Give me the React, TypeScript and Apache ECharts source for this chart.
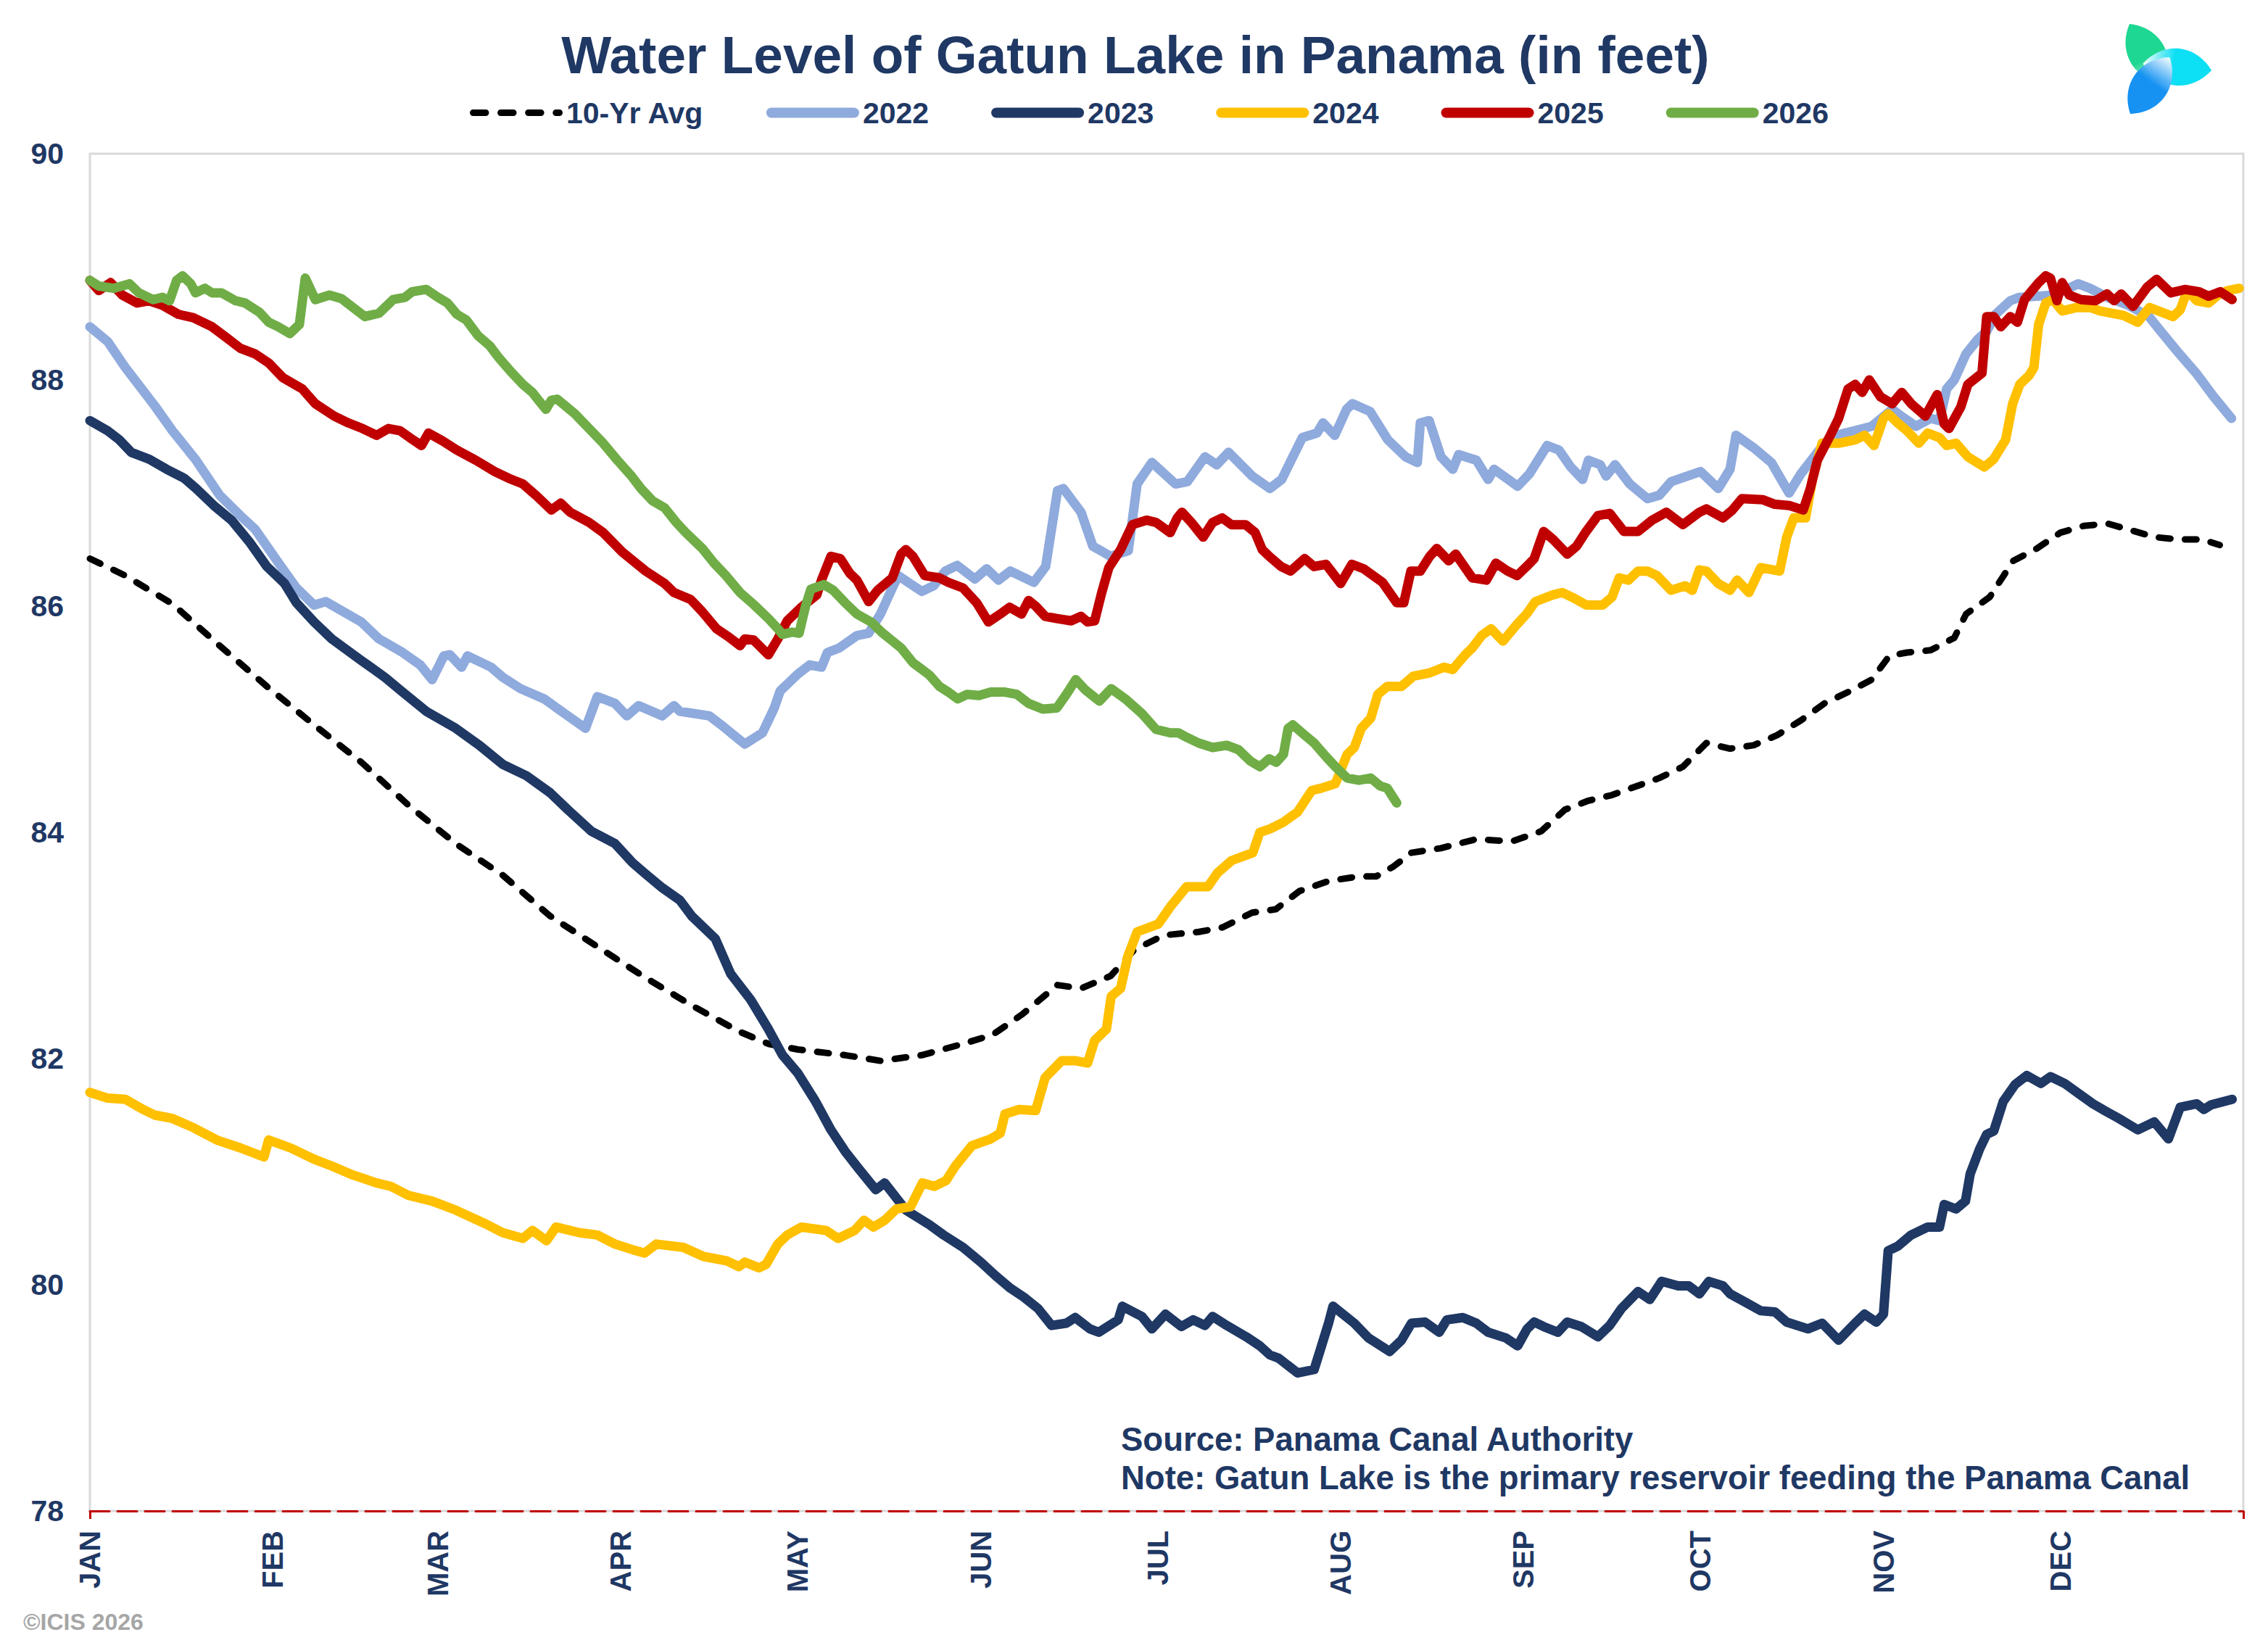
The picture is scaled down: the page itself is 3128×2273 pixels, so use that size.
import React, { useEffect, useRef } from "react";
import * as echarts from "echarts";

const FONT = "'Liberation Sans', Arial, sans-serif";
const NAVY = "#1F3864";

const MONTH_LABELS = ["JAN", "FEB", "MAR", "APR", "MAY", "JUN", "JUL", "AUG", "SEP", "OCT", "NOV", "DEC"];
const MONTH_START = [0, 31, 59, 90, 120, 151, 181, 212, 243, 273, 304, 334];
const Y_TICKS = [78, 80, 82, 84, 86, 88, 90];

const SERIES_NAMES = ["10-Yr Avg", "2022", "2023", "2024", "2025", "2026"];
const SERIES_COLORS = ["#000000", "#8FAADC", "#1F3864", "#FFC000", "#C00000", "#70AD47"];

const AVG = [
  [0, 86.42], [6, 86.27], [14, 86.02], [22, 85.65], [30, 85.29], [38, 84.95], [46, 84.62], [54, 84.24], [62, 83.9], [70, 83.62],
  [78, 83.26], [86, 82.99], [94, 82.72], [102, 82.47], [110, 82.24], [115, 82.13], [120, 82.08], [128, 82.03], [134, 81.98],
  [141, 82.03], [148, 82.13], [153, 82.21], [158, 82.39], [164, 82.65], [168, 82.62], [173, 82.73], [177, 82.96], [182, 83.09],
  [188, 83.12], [192, 83.16], [197, 83.29], [201, 83.32], [205, 83.48], [210, 83.57], [215, 83.61], [218, 83.61], [221, 83.7],
  [224, 83.82], [229, 83.86], [235, 83.94], [241, 83.92], [246, 84.01], [250, 84.2], [254, 84.28], [258, 84.33], [266, 84.48],
  [270, 84.58], [274, 84.79], [278, 84.74], [282, 84.77], [286, 84.86], [290, 84.99], [294, 85.14], [298, 85.24], [302, 85.35],
  [305, 85.56], [308, 85.59], [312, 85.61], [316, 85.72], [318, 85.93], [322, 86.08], [326, 86.4], [330, 86.51], [334, 86.65],
  [338, 86.71], [342, 86.73], [346, 86.67], [350, 86.61], [354, 86.59], [358, 86.59], [361, 86.54],
];

const Y2022 = [
  [0, 88.47], [3, 88.34], [6, 88.11], [11, 87.77], [14, 87.55], [18, 87.29], [22, 86.98], [25.5, 86.8], [28, 86.68], [32, 86.38],
  [35, 86.16], [38, 86.01], [40, 86.04], [43, 85.95], [46, 85.86], [49, 85.71], [53, 85.59], [56, 85.48], [58, 85.35], [60, 85.56],
  [61, 85.57], [63, 85.46], [64, 85.56], [68, 85.46], [70, 85.37], [73, 85.27], [77, 85.18], [81, 85.03], [84, 84.92], [86, 85.2],
  [89, 85.14], [91, 85.03], [93, 85.12], [97, 85.03], [99, 85.12], [100, 85.07], [105, 85.03], [107, 84.95], [111, 84.78],
  [114, 84.88], [116, 85.1], [117, 85.25], [120, 85.4], [122, 85.48], [124, 85.46], [125, 85.59], [127, 85.63], [130, 85.74],
  [132, 85.76], [134, 85.93], [136, 86.16], [137, 86.27], [139, 86.2], [141, 86.13], [143, 86.18], [145, 86.31], [147, 86.36],
  [150, 86.24], [152, 86.33], [154, 86.23], [156, 86.31], [160, 86.21], [162, 86.35], [164, 87.02], [165, 87.04], [168, 86.83],
  [170, 86.53], [173, 86.44], [176, 86.49], [177.5, 87.08], [180, 87.27], [184, 87.08], [186, 87.1], [189, 87.32], [191, 87.25],
  [193, 87.36], [197, 87.15], [200, 87.04], [202, 87.12], [205.5, 87.49], [208, 87.53], [209, 87.62], [211, 87.51], [213, 87.74],
  [214, 87.79], [217, 87.72], [220, 87.47], [223, 87.32], [225, 87.27], [225.5, 87.62], [227, 87.64], [229, 87.32], [231, 87.21],
  [232, 87.34], [235, 87.29], [237, 87.12], [238, 87.21], [242, 87.06], [244, 87.17], [247, 87.42], [249, 87.38], [251, 87.23],
  [253, 87.12], [254, 87.29], [256, 87.25], [257, 87.15], [258.5, 87.25], [261, 87.08], [264, 86.95], [266, 86.98], [268, 87.1],
  [273, 87.19], [276, 87.04], [278, 87.21], [279, 87.51], [282, 87.4], [285, 87.27], [288, 87.0], [290, 87.17], [294, 87.44],
  [296, 87.51], [299, 87.55], [302, 87.59], [305.5, 87.74], [307, 87.68], [309.5, 87.59], [312, 87.66], [313.5, 87.64],
  [314.7, 87.92], [316, 88.0], [318, 88.23], [320, 88.36], [321.5, 88.43], [323, 88.58], [325.5, 88.7], [327, 88.73], [333, 88.75],
  [337, 88.85], [339, 88.81], [342, 88.73], [345.5, 88.66], [349, 88.56], [351, 88.43], [354, 88.24], [357, 88.06], [360, 87.85],
  [363, 87.66],
];

const Y2023 = [
  [0, 87.64], [3, 87.55], [5, 87.47], [7, 87.36], [10, 87.3], [13, 87.21], [16, 87.13], [18, 87.04], [21, 86.89], [24, 86.76],
  [27, 86.57], [30, 86.35], [33, 86.2], [35, 86.03], [38, 85.86], [41, 85.71], [46, 85.52], [50, 85.37], [53, 85.24], [57, 85.07],
  [62, 84.92], [66, 84.77], [70, 84.6], [74, 84.5], [78, 84.35], [81, 84.2], [85, 84.01], [89, 83.9], [92, 83.73], [94, 83.64],
  [97, 83.51], [100, 83.4], [102, 83.26], [106, 83.06], [108.6, 82.75], [112, 82.52], [115, 82.26], [117.4, 82.03], [120, 81.87],
  [123, 81.62], [125.6, 81.37], [128, 81.18], [130.4, 81.02], [133.2, 80.84], [134.7, 80.9], [138.3, 80.66], [142.3, 80.53],
  [144.7, 80.44], [148, 80.33], [151, 80.2], [153.5, 80.08], [156, 79.97], [158.3, 79.89], [160.7, 79.79], [163, 79.64],
  [165.5, 79.66], [167, 79.71], [169.5, 79.61], [171, 79.58], [174.3, 79.69], [175, 79.81], [178.3, 79.72], [180, 79.61],
  [182.3, 79.74], [185, 79.63], [187, 79.69], [189, 79.64], [190.3, 79.72], [192.7, 79.64], [196, 79.54], [198.3, 79.46],
  [200, 79.38], [201.5, 79.35], [204.7, 79.22], [207.5, 79.25], [208.7, 79.45], [210, 79.67], [210.7, 79.81], [214.3, 79.66],
  [216.7, 79.53], [220.3, 79.41], [222.3, 79.51], [224, 79.66], [226.3, 79.67], [228.7, 79.58], [230, 79.69], [232.7, 79.71],
  [235, 79.66], [237, 79.58], [240, 79.53], [242, 79.46], [243.6, 79.61], [244.8, 79.67], [246.4, 79.63], [248.8, 79.58],
  [250.4, 79.67], [252.8, 79.63], [255.6, 79.54], [257.6, 79.64], [259.6, 79.79], [262.4, 79.94], [264.4, 79.87], [266.4, 80.03],
  [269.2, 79.99], [271, 79.99], [272.8, 79.92], [274.4, 80.03], [276.8, 79.99], [278, 79.92], [280.8, 79.84], [283.2, 79.77],
  [285.6, 79.76], [287.6, 79.67], [291.2, 79.61], [293.6, 79.66], [296.4, 79.51], [299.2, 79.66], [300.8, 79.74], [302.8, 79.67],
  [304, 79.74], [304.8, 80.3], [306.4, 80.34], [308.7, 80.44], [311.5, 80.51], [313.5, 80.51], [314.3, 80.71], [316.3, 80.67],
  [317.9, 80.74], [318.7, 80.98], [320.3, 81.2], [321.5, 81.33], [322.7, 81.36], [324.3, 81.62], [326.3, 81.77], [328.3, 81.85],
  [330.7, 81.78], [332.3, 81.84], [334.7, 81.78], [337.1, 81.69], [339.5, 81.6], [341.5, 81.54], [343.9, 81.47], [347.1, 81.37],
  [349.9, 81.44], [352.3, 81.29], [354.3, 81.57], [357.1, 81.6], [358.3, 81.55], [359.5, 81.59], [363.1, 81.64],
];

const Y2024 = [
  [0, 81.7], [3, 81.65], [6, 81.64], [9, 81.55], [11, 81.5], [14, 81.47], [17.5, 81.39], [21.5, 81.28], [25.5, 81.21],
  [29.5, 81.13], [30.3, 81.28], [34, 81.21], [38, 81.11], [41, 81.05], [44.6, 80.97], [48.6, 80.9], [51, 80.87], [54, 80.79],
  [58, 80.74], [62, 80.66], [67, 80.54], [70, 80.46], [73.4, 80.41], [75, 80.48], [77.4, 80.39], [79, 80.51], [83, 80.46],
  [86, 80.44], [89, 80.36], [92, 80.31], [94, 80.28], [96, 80.36], [100.6, 80.33], [104, 80.25], [108, 80.21], [110, 80.16],
  [111, 80.2], [113.4, 80.15], [114.6, 80.18], [116.6, 80.36], [118.2, 80.44], [120.6, 80.51], [124.8, 80.48], [126.8, 80.41],
  [129.6, 80.48], [131.2, 80.57], [132.8, 80.51], [134.7, 80.57], [136.7, 80.67], [139.1, 80.69], [141.1, 80.9], [143.1, 80.87],
  [145.1, 80.92], [146.7, 81.05], [149.5, 81.23], [152.7, 81.29], [154.3, 81.34], [155.1, 81.51], [157.5, 81.55], [160.3, 81.54],
  [161.9, 81.83], [164.7, 81.98], [167.1, 81.98], [169.1, 81.96], [170.3, 82.16], [172.3, 82.26], [173.1, 82.55], [174.7, 82.62],
  [175.9, 82.9], [177.5, 83.12], [181.1, 83.19], [183.1, 83.34], [185.9, 83.52], [189.5, 83.52], [191.1, 83.64], [193.5, 83.75],
  [197.1, 83.82], [198.3, 84.0], [200, 84.03], [202.3, 84.09], [204.7, 84.18], [207.1, 84.37], [208.7, 84.39], [211.1, 84.43],
  [213.1, 84.69], [214.3, 84.75], [215.5, 84.92], [217.1, 85.01], [218.3, 85.22], [219.9, 85.29], [222.3, 85.29], [224.3, 85.38],
  [227.1, 85.41], [229.5, 85.46], [231, 85.44], [233.1, 85.57], [234.3, 85.63], [235.9, 85.74], [237.5, 85.8], [239.5, 85.69],
  [241.9, 85.84], [243.5, 85.93], [245, 86.04], [248, 86.1], [249.6, 86.12], [251.2, 86.08], [253.6, 86.01], [256.4, 86.01],
  [258, 86.08], [259.2, 86.25], [260.8, 86.23], [262.4, 86.31], [264, 86.31], [265.6, 86.27], [268, 86.14], [270.4, 86.18],
  [271.6, 86.14], [272.8, 86.32], [274, 86.31], [276, 86.2], [278, 86.14], [279.2, 86.23], [281.2, 86.12], [283.2, 86.34],
  [286.4, 86.31], [287.6, 86.61], [288.8, 86.78], [290.8, 86.78], [292, 87.13], [293.6, 87.44], [296.4, 87.44], [299.2, 87.47],
  [300.8, 87.51], [302.4, 87.42], [304, 87.66], [304.8, 87.7], [306.4, 87.62], [308, 87.55], [310, 87.44], [311.5, 87.53],
  [313.5, 87.49], [314.7, 87.42], [316.3, 87.44], [318.3, 87.32], [321.1, 87.23], [322.7, 87.3], [324.7, 87.47], [325.9, 87.79],
  [327.1, 87.96], [328.7, 88.04], [329.5, 88.11], [330.3, 88.49], [331.5, 88.68], [332.7, 88.71], [334.3, 88.61], [336.7, 88.64],
  [339.1, 88.64], [340.7, 88.61], [344.7, 88.57], [347.1, 88.51], [349.1, 88.64], [351.1, 88.6], [353.1, 88.56], [354.3, 88.62],
  [355.5, 88.79], [357.1, 88.7], [359.1, 88.68], [360.7, 88.75], [362.3, 88.79], [364.3, 88.81],
];

const Y2025 = [
  [0, 88.88], [1.5, 88.79], [3.5, 88.86], [5.5, 88.75], [8, 88.68], [10, 88.7], [12.3, 88.66], [15, 88.58], [17.5, 88.55],
  [20.7, 88.47], [23, 88.38], [25.5, 88.28], [28, 88.23], [30.3, 88.15], [32.7, 88.02], [36, 87.92], [38.2, 87.79], [41.4, 87.68],
  [43.8, 87.62], [46.2, 87.57], [48.6, 87.51], [50.6, 87.57], [52.6, 87.55], [54.2, 87.49], [56.2, 87.42], [57.4, 87.53],
  [59.8, 87.46], [62.2, 87.38], [65.4, 87.29], [68.6, 87.19], [71, 87.13], [73.4, 87.08], [75.8, 86.97], [78.2, 86.85],
  [79.8, 86.91], [81.4, 86.83], [84.6, 86.74], [87, 86.65], [90.2, 86.48], [94.2, 86.31], [97.4, 86.2], [99, 86.12],
  [101.8, 86.06], [103.8, 85.95], [106.2, 85.8], [108.2, 85.73], [110.2, 85.65], [111, 85.71], [112.5, 85.7], [115, 85.57],
  [116.6, 85.71], [118.2, 85.87], [120.6, 85.99], [123.2, 86.1], [124, 86.23], [125.6, 86.44], [127.2, 86.42], [128.8, 86.29],
  [130, 86.23], [132, 86.04], [133.5, 86.14], [136, 86.25], [137.5, 86.46], [138.3, 86.5], [139.5, 86.44], [141.5, 86.27],
  [144, 86.25], [145.5, 86.21], [148, 86.16], [150.3, 86.03], [152.3, 85.86], [154.3, 85.93], [155.9, 85.99], [157.9, 85.93],
  [159.1, 86.05], [160.3, 86.0], [161.9, 85.91], [163.9, 85.89], [166.3, 85.87], [168, 85.91], [169.1, 85.86], [170.3, 85.87],
  [171.5, 86.12], [172.7, 86.34], [174.7, 86.5], [176.7, 86.72], [179.1, 86.76], [180.7, 86.74], [183.1, 86.65], [184.3, 86.78],
  [185.1, 86.83], [186.7, 86.74], [188.7, 86.61], [190.3, 86.74], [191.9, 86.78], [193.5, 86.72], [195.9, 86.72], [197.5, 86.65],
  [198.7, 86.5], [199.9, 86.44], [201.9, 86.35], [203.5, 86.31], [205.9, 86.42], [207.5, 86.35], [209.5, 86.37], [212, 86.2],
  [213.9, 86.37], [215.9, 86.33], [219.1, 86.21], [221.5, 86.03], [222.7, 86.03], [223.9, 86.31], [225.5, 86.31], [227.1, 86.44],
  [228.3, 86.51], [230.3, 86.4], [231.5, 86.46], [234.3, 86.25], [236.7, 86.23], [238.3, 86.38], [240.3, 86.31], [241.9, 86.27],
  [243.5, 86.35], [244.8, 86.42], [246.4, 86.66], [248, 86.59], [250.4, 86.46], [252, 86.53], [253.6, 86.66], [255.6, 86.8],
  [257.6, 86.82], [260, 86.66], [262.4, 86.66], [264.8, 86.76], [267.2, 86.83], [270, 86.72], [272.8, 86.83], [274, 86.86],
  [276.8, 86.78], [278.4, 86.85], [280, 86.95], [283.6, 86.94], [285.6, 86.9], [288, 86.89], [290.4, 86.85], [291.6, 87.04],
  [292.8, 87.29], [294.8, 87.49], [296.4, 87.66], [298, 87.92], [299.2, 87.96], [300.4, 87.89], [301.6, 88.0], [303.5, 87.85],
  [305.5, 87.79], [307.1, 87.89], [308.7, 87.79], [311.1, 87.68], [313.1, 87.87], [314.3, 87.61], [315.1, 87.57], [317.1, 87.76],
  [318.3, 87.96], [320.7, 88.06], [321.5, 88.56], [322.7, 88.56], [323.9, 88.47], [325.5, 88.56], [326.7, 88.51], [327.9, 88.71],
  [330.3, 88.86], [331.5, 88.92], [332.3, 88.9], [333.4, 88.7], [334.3, 88.86], [335.5, 88.75], [337.5, 88.71], [339.9, 88.7],
  [341.9, 88.76], [343.1, 88.7], [344.3, 88.76], [346.3, 88.65], [348.7, 88.82], [350.3, 88.89], [352.7, 88.77], [355.1, 88.8],
  [357.5, 88.78], [359.1, 88.74], [361.1, 88.78], [363.1, 88.71],
];

const Y2026 = [
  [0, 88.88], [1.5, 88.83], [4, 88.81], [6.7, 88.85], [8.3, 88.77], [10.7, 88.71], [12.3, 88.73], [13.5, 88.7], [14.7, 88.88],
  [15.7, 88.92], [17.1, 88.85], [17.9, 88.77], [19.5, 88.81], [20.7, 88.77], [22.3, 88.77], [24.7, 88.7], [26.3, 88.68],
  [28.7, 88.6], [30.3, 88.51], [31.9, 88.47], [33.9, 88.41], [35.5, 88.49], [36.5, 88.9], [38.2, 88.71], [40.6, 88.75],
  [42.6, 88.72], [44.6, 88.64], [46.6, 88.56], [49, 88.59], [51.4, 88.71], [53.4, 88.73], [54.6, 88.78], [57, 88.8], [59, 88.73],
  [60.6, 88.68], [62.2, 88.58], [63.8, 88.53], [65.8, 88.39], [67.8, 88.3], [69.4, 88.19], [71.4, 88.07], [73.4, 87.96],
  [75, 87.89], [76.2, 87.81], [77.3, 87.74], [78.2, 87.82], [79.2, 87.83], [82.2, 87.7], [84.6, 87.57], [87, 87.44],
  [89.4, 87.29], [91.8, 87.15], [93.4, 87.04], [95.4, 86.93], [97.4, 86.87], [99.4, 86.74], [101, 86.65], [103.8, 86.51],
  [105.8, 86.38], [107.8, 86.27], [110.2, 86.12], [112.6, 86.01], [115, 85.89], [116.6, 85.8], [117.4, 85.75], [119, 85.77],
  [120.2, 85.76], [121.3, 86.0], [122.2, 86.15], [124.4, 86.19], [126, 86.14], [128, 86.03], [130, 85.93], [132.4, 85.86],
  [134.4, 85.76], [135.6, 85.71], [137.5, 85.63], [139.5, 85.5], [142.3, 85.39], [144, 85.29], [145.5, 85.24], [147.1, 85.18],
  [148.7, 85.22], [150.7, 85.21], [152.7, 85.24], [155.1, 85.24], [157.1, 85.22], [159.1, 85.14], [161.5, 85.09], [163.9, 85.1],
  [165.5, 85.22], [167.1, 85.35], [168.7, 85.26], [171.1, 85.16], [173.1, 85.27], [175.5, 85.18], [178.3, 85.05], [180.7, 84.91],
  [183.1, 84.88], [184.5, 84.88], [185.9, 84.84], [187.9, 84.79], [190.3, 84.75], [192.7, 84.77], [194.7, 84.73], [196.7, 84.63],
  [198.3, 84.58], [199.9, 84.65], [201.1, 84.62], [202.3, 84.69], [203.1, 84.92], [203.9, 84.95], [205.9, 84.86], [207.5, 84.79],
  [209.5, 84.67], [211.1, 84.58], [213.1, 84.48], [215.1, 84.46], [217.1, 84.48], [218.7, 84.41], [219.9, 84.39], [221.5, 84.26],
];

const SERIES_DATA = [AVG, Y2022, Y2023, Y2024, Y2025, Y2026];

const TITLE = "Water Level of Gatun Lake in Panama (in feet)";
const SOURCE = "Source: Panama Canal Authority";
const NOTE = "Note: Gatun Lake is the primary reservoir feeding the Panama Canal";
const COPYRIGHT = "\u00A9ICIS 2026";

function capsule(x: number, w: number, h: number) {
  const r = h / 2;
  return `M${x + r} 0 L${x + w - r} 0 A${r} ${r} 0 0 1 ${x + w - r} ${h} L${x + r} ${h} A${r} ${r} 0 0 1 ${x + r} 0 Z`;
}
const YEAR_ICON = "path://" + capsule(0, 128, 14);
const AVG_ICON = "path://" + capsule(0, 25, 8.5) + " " + capsule(36, 25, 8.5) + " " + capsule(72, 25, 8.5) + " " + capsule(108, 13, 8.5);

const LEAF_PATH = "M0 0 C25 -34 70 -34 95 0 C70 34 25 34 0 0 Z";
let leafRegistered = false;
function ensureLeaf() {
  if (leafRegistered) return;
  echarts.graphic.registerShape("icisLeaf", echarts.graphic.extendPath(LEAF_PATH, {}));
  leafRegistered = true;
}

function leaf(x: number, y: number, angleDeg: number, color: string) {
  return {
    type: "icisLeaf",
    x,
    y,
    rotation: (-angleDeg * Math.PI) / 180,
    style: {
      fill: new echarts.graphic.LinearGradient(0, 0, 1, 0, [
        { offset: 0, color },
        { offset: 0.55, color },
        { offset: 1, color: "#FFFFFF" },
      ]),
      opacity: 0.95,
    },
    z: 10,
  };
}

export default function App() {
  const ref = useRef<HTMLDivElement>(null);

  useEffect(() => {
    if (!ref.current) return;
    ensureLeaf();
    const chart = echarts.init(ref.current, null, { renderer: "svg" });

    const series = SERIES_NAMES.map((name, i) => ({
      name,
      type: "line",
      data: SERIES_DATA[i],
      symbol: "none",
      smooth: false,
      lineStyle: i === 0
        ? { color: SERIES_COLORS[i], width: 9, type: [16, 20], cap: "round", join: "round" }
        : { color: SERIES_COLORS[i], width: 13, cap: "round", join: "round" },
      itemStyle: { color: SERIES_COLORS[i] },
      z: 2 + i,
    }));

    const option = {
      animation: false,
      backgroundColor: "#FFFFFF",
      textStyle: { fontFamily: FONT },
      grid: {
        left: 124,
        right: 34,
        top: 212,
        bottom: 189,
        show: true,
        borderColor: "#D9D9D9",
        borderWidth: 3,
        containLabel: false,
        outerBoundsMode: "none",
      },
      legend: {
        data: SERIES_NAMES.map((name, i) => ({ name, icon: i === 0 ? AVG_ICON : YEAR_ICON })),
        left: 643,
        top: 130,
        itemWidth: 128,
        itemHeight: 14,
        itemGap: 86,
        textStyle: { color: NAVY, fontSize: 41, fontWeight: "bold", fontFamily: FONT, lineHeight: 41 },
      },
      xAxis: {
        type: "value",
        min: 0,
        max: 365,
        splitLine: { show: false },
        axisLine: { show: true, onZero: false, lineStyle: { color: "#C00000", width: 3, type: [27, 11] } },
        axisTick: { show: true, customValues: [0, 365], length: 11, lineStyle: { color: "#C00000", width: 3 } },
        axisLabel: {
          customValues: MONTH_START,
          rotate: 90,
          margin: 27,
          color: NAVY,
          fontSize: 40,
          fontWeight: "bold",
          fontFamily: FONT,
          formatter: (v: number) => {
            const k = MONTH_START.indexOf(Math.round(v));
            return k >= 0 ? MONTH_LABELS[k] : "";
          },
        },
      },
      yAxis: {
        type: "value",
        min: Y_TICKS[0],
        max: Y_TICKS[Y_TICKS.length - 1],
        interval: 2,
        splitLine: { show: false },
        axisLine: { show: false },
        axisTick: { show: false },
        axisLabel: { color: NAVY, fontSize: 41, fontWeight: "bold", fontFamily: FONT, margin: 36 },
      },
      series,
      graphic: [
        {
          type: "text",
          x: 1566,
          y: 75,
          style: { text: TITLE, fill: NAVY, fontSize: 73, fontWeight: "bold", fontFamily: FONT, align: "center", verticalAlign: "middle" },
          z: 20,
        },
        {
          type: "text",
          x: 1546,
          y: 1985,
          style: { text: SOURCE, fill: NAVY, fontSize: 45.5, fontWeight: "bold", fontFamily: FONT, align: "left", verticalAlign: "middle" },
          z: 20,
        },
        {
          type: "text",
          x: 1546,
          y: 2038,
          style: { text: NOTE, fill: NAVY, fontSize: 45.5, fontWeight: "bold", fontFamily: FONT, align: "left", verticalAlign: "middle" },
          z: 20,
        },
        {
          type: "text",
          x: 32,
          y: 2237,
          style: { text: COPYRIGHT, fill: "#A6A6A6", fontSize: 32, fontWeight: "bold", fontFamily: FONT, align: "left", verticalAlign: "middle" },
          z: 20,
        },
        leaf(2937, 33, 59.6, "#12D58C"),
        leaf(3050, 97, 185.6, "#00DDF3"),
        leaf(2938, 157, -55.2, "#0A8CF2"),
      ],
    };

    chart.setOption(option as any);
    return () => chart.dispose();
  }, []);

  return (
    <div
      ref={ref}
      style={{ position: "absolute", left: 0, top: 0, width: 3128, height: 2273, background: "#FFFFFF" }}
    />
  );
}
